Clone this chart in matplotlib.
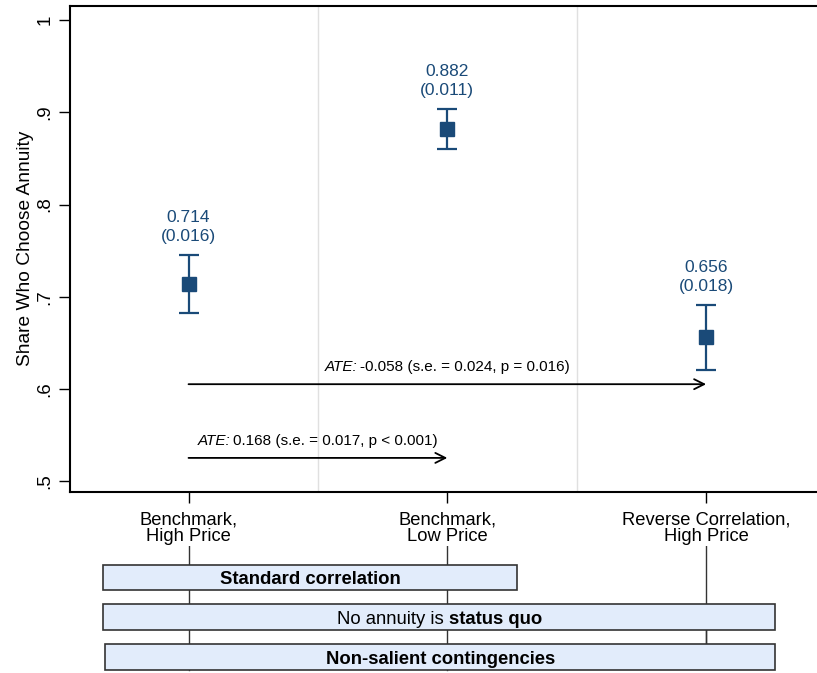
import matplotlib.pyplot as plt
import matplotlib.patches as mpatches

plt.rcParams['font.family'] = ['Liberation Sans', 'DejaVu Sans']

# data
groups = ['Benchmark,\nHigh Price', 'Benchmark,\nLow Price', 'Reverse Correlation,\nHigh Price']
means = [0.714, 0.882, 0.656]
ses = [0.016, 0.011, 0.018]
ate_text = ['-0.058 (s.e. = 0.024, p = 0.016)', '0.168 (s.e. = 0.017, p < 0.001)']
ate_from = [1, 1]
ate_to = [3, 2]
ate_y = [0.605, 0.525]
yticks = [0.5, 0.6, 0.7, 0.8, 0.9, 1.0]
ytick_labels = ['.5', '.6', '.7', '.8', '.9', '1']
# each box label as (text, style) pieces
boxes = [[('Standard correlation', 'bold')],
         [('No annuity is', 'normal'), ('status quo', 'bold')],
         [('Non-salient contingencies', 'bold')]]

navy = '#1a4a78'
xs = [1, 2, 3]
W, H = 817, 673
fig = plt.figure(figsize=(W / 100, H / 100), dpi=100)
renderer = fig.canvas.get_renderer()


def multi_text(axis, x, y, pieces, fs, gap=4, va='center', dy=0):
    # draw pieces side by side, centred as a whole on (x, y)
    objs = []
    for s, st in pieces:
        w = 'bold' if st == 'bold' else 'normal'
        sty = 'italic' if st == 'italic' else 'normal'
        objs.append(axis.annotate(s, (x, y), xytext=(0, dy), textcoords='offset pixels',
                                  ha='left', va=va, fontsize=fs, fontweight=w,
                                  fontstyle=sty, zorder=4, annotation_clip=False))
    widths = [o.get_window_extent(renderer).width for o in objs]
    total = sum(widths) + gap * (len(objs) - 1)
    cur = -total / 2
    for o, w in zip(objs, widths):
        o.xyann = (cur, dy)
        cur += w + gap


ax = fig.add_axes([70 / W, 1 - 492 / H, 1 - 70 / W + 0.01, (492 - 5.5) / H])
ax.set_xlim(0.542, 3.46)
ax.set_ylim(0.488, 1.016)

for xv in [1.5, 2.5]:
    ax.axvline(xv, color='#e0e0e0', lw=1, zorder=0)

ci = [1.96 * s for s in ses]
ax.errorbar(xs, means, yerr=ci, fmt='s', color=navy, ms=10, elinewidth=1.6,
            capsize=7, capthick=1.6, zorder=3)
for xv, m, s, c in zip(xs, means, ses, ci):
    ax.annotate(f'{m:.3f}\n({s:.3f})', (xv, m + c), xytext=(0, 8), textcoords='offset points',
                ha='center', va='bottom', color=navy, fontsize=12.5, linespacing=1.3)

for lab, x0, x1, yv in zip(ate_text, ate_from, ate_to, ate_y):
    ax.annotate('', xy=(x1, yv), xytext=(x0, yv),
                arrowprops=dict(arrowstyle='->', color='black', lw=1.3,
                                shrinkA=0, shrinkB=0, mutation_scale=18))
    multi_text(ax, (x0 + x1) / 2, yv, [('ATE:', 'italic'), (lab, 'normal')], 11,
               gap=3, va='bottom', dy=10)

ax.set_yticks(yticks)
ax.set_yticklabels(ytick_labels, rotation=90, va='center', fontsize=13.5)
ax.set_xticks(xs)
ax.set_xticklabels(groups, fontsize=13.2, linespacing=0.95)
ax.tick_params(axis='both', length=8, width=1, direction='out', color='black')
ax.tick_params(axis='x', pad=6)
ax.tick_params(axis='y', pad=4)
ax.set_ylabel('Share Who Choose Annuity', fontsize=13.8, labelpad=2)
for sp in ['left', 'bottom', 'top']:
    ax.spines[sp].set_linewidth(1.5)
ax.spines['right'].set_visible(False)

# bottom panel with the treatment boxes, y in pixel units
bx = fig.add_axes([70 / W, 0, 1 - 70 / W + 0.01, (H - 546) / H])
bx.set_xlim(ax.get_xlim())
bx.set_ylim(H, 546)
bx.axis('off')
for xv, ybot in zip(xs, [670, 670, 644]):
    bx.plot([xv, xv], [546, ybot], color='#333333', lw=1, zorder=1)
bx.plot([3, 3], [630, 644], color='#333333', lw=1, zorder=1)
box_spans = [(0.670, 2.270), (0.670, 3.268), (0.678, 3.268)]
box_rows = [(565, 590), (604, 630), (644, 670)]
for pieces, (x0, x1), (y0, y1) in zip(boxes, box_spans, box_rows):
    bx.add_patch(mpatches.Rectangle((x0, y0), x1 - x0, y1 - y0, facecolor='#e2ecfb',
                                    edgecolor='#333333', lw=1.2, zorder=2))
    multi_text(bx, (x0 + x1) / 2, (y0 + y1) / 2, pieces, 13.3, gap=5, va='center_baseline')

fig.savefig('out.png', dpi=100)
